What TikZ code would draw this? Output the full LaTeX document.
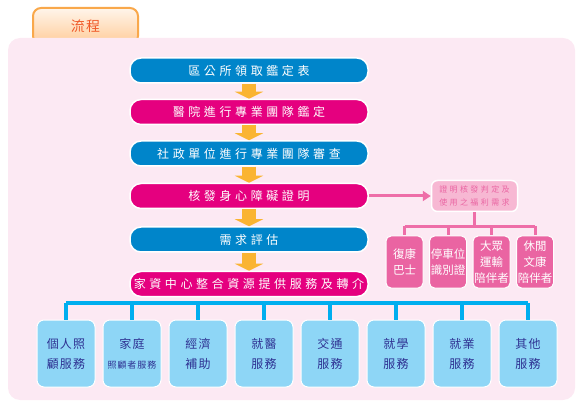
\documentclass[tikz,border=0pt]{standalone}
\usepackage{fontspec}
\newfontfamily\cjkwide[LetterSpace=30]{Noto Sans CJK TC}
\newfontfamily\cjk[LetterSpace=10]{Noto Sans CJK TC}
\newfontfamily\cjkplain{Noto Sans CJK TC}
\usepackage{xcolor}
\definecolor{mainblue}{RGB}{0,133,202}
\definecolor{mainred}{RGB}{229,0,127}
\definecolor{arrowgold}{RGB}{250,180,50}
\definecolor{panelpink}{RGB}{252,233,243}
\definecolor{needpink}{RGB}{247,184,211}
\definecolor{helppink}{RGB}{234,100,162}
\definecolor{linepink}{RGB}{238,110,168}
\definecolor{servblue}{RGB}{142,214,246}
\definecolor{linkblue}{RGB}{0,174,239}
\definecolor{servtext}{RGB}{46,49,146}
\definecolor{tabline}{RGB}{249,168,75}
\definecolor{tabtext}{RGB}{240,90,40}
\usetikzlibrary{arrows.meta, positioning}

\begin{document}
\begin{tikzpicture}[
    x=1pt, y=-1pt,
    node distance=15pt and 7pt,
    every node/.style={align=center},
    stepblue/.style={rectangle, rounded corners=11pt, draw=white, line width=1.5pt, fill=mainblue, text=white, minimum width=238pt, minimum height=25pt, inner sep=1pt, font=\cjkwide\fontsize{12}{14}\selectfont},
    stepred/.style={stepblue, fill=mainred},
    needbox/.style={rectangle, rounded corners=6pt, draw=white, line width=1.5pt, fill=needpink, text=helppink, minimum width=86pt, minimum height=31pt, inner sep=1pt, font=\cjkwide\fontsize{8}{13}\selectfont},
    helpbox/.style={rectangle, rounded corners=5pt, draw=white, line width=1pt, fill=helppink, text=white, minimum width=37pt, minimum height=52pt, inner sep=1pt, font=\cjkplain\fontsize{11.5}{16}\selectfont},
    servbox/.style={rectangle, rounded corners=7pt, draw=white, line width=1pt, fill=servblue, text=servtext, minimum width=58pt, minimum height=67pt, inner sep=1pt, font=\cjk\fontsize{12}{20}\selectfont},
    tabbox/.style={rectangle, rounded corners=8pt, draw=tabline, line width=2pt, top color=orange!8, bottom color=orange!40, text=tabtext, minimum width=105pt, minimum height=36pt, font=\cjk\fontsize{14}{16}\selectfont},
    flowarrow/.style={arrowgold, line width=14pt, -{Triangle[width=28pt, length=7pt]}},
    pinkarrow/.style={linepink, line width=3pt, -{Triangle[width=10pt, length=8pt]}},
    pinkline/.style={linepink, line width=3pt},
    blueline/.style={linkblue, line width=4pt}
]
\useasboundingbox (0,0) rectangle (580,411);

% Tab and panel
\node[tabbox, anchor=north] (tab) at (85.5,7) {流程};
\fill[panelpink, rounded corners=12pt] (8,38) rectangle (575,400);

% Nodes
\node[stepblue] (ward) at (249,70.5) {區公所領取鑑定表};
\node[stepred, below=of ward] (hosp) {醫院進行專業團隊鑑定};
\node[stepblue, below=of hosp] (review) {社政單位進行專業團隊審查};
\node[stepred, below=16pt of review] (cert) {核發身心障礙證明};
\node[stepblue, below=17pt of cert] (assess) {需求評估};
\node[stepred, below=18pt of assess] (refer) {家資中心整合資源提供服務及轉介};

\node[needbox, right=62pt of cert] (need) {證明核發判定及\\使用之福利需求};
\node[helpbox] (bus) at (404.5,262) {復康\\巴士};
\node[helpbox, right=5.5pt of bus] (park) {停車位\\識別證};
\node[helpbox, right=5.5pt of park] (transit) {大眾\\運輸\\陪伴者};
\node[helpbox, right=5.5pt of transit] (leisure) {休閒\\文康\\陪伴者};

\node[servbox] (sv1) at (66,353.5) {個人照\\顧服務};
\node[servbox, right=of sv1] (sv2) {家庭\\{\fontsize{9}{11}\selectfont 照顧者服務}};
\node[servbox, right=of sv2] (sv3) {經濟\\補助};
\node[servbox, right=of sv3] (sv4) {就醫\\服務};
\node[servbox, right=of sv4] (sv5) {交通\\服務};
\node[servbox, right=of sv5] (sv6) {就學\\服務};
\node[servbox, right=of sv6] (sv7) {就業\\服務};
\node[servbox, right=of sv7] (sv8) {其他\\服務};

\coordinate (needfork) at ([yshift=-14pt]need.south);
\coordinate (servfork) at (0,303);

% Connections
\draw[flowarrow] (ward) -- (hosp);
\draw[flowarrow] (hosp) -- (review);
\draw[flowarrow] (review) -- (cert);
\draw[flowarrow] (cert) -- (assess);
\draw[flowarrow] (assess) -- (refer);
\draw[pinkarrow] (cert) -- (need);

\draw[pinkline] (need) -- (needfork);
\draw[pinkline] (bus.north |- needfork) -- (leisure.north |- needfork);
\foreach \n in {bus, park, transit, leisure}
    \draw[pinkline] (\n.north |- needfork) -- (\n.north);

\draw[blueline] (sv1.north |- servfork) -- (sv8.north |- servfork);
\foreach \i in {1,...,8}
    \draw[blueline] (sv\i.north |- servfork) -- (sv\i.north);

\end{tikzpicture}
\end{document}
